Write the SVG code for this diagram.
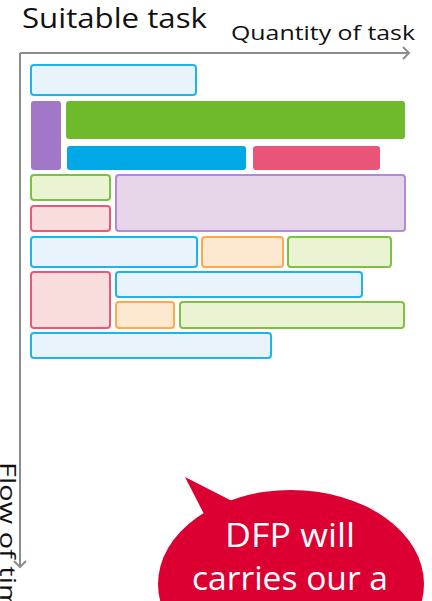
<svg xmlns="http://www.w3.org/2000/svg" width="432" height="601" viewBox="0 0 432 601">
<defs>
<style>
text{font-family:"Open Sans","Noto Sans","DejaVu Sans",sans-serif}
.t{fill:#111}
.ax{stroke:#8c8c8c;stroke-width:2;fill:none}
.b{stroke-width:2}
.lb{fill:#e8f3fb;stroke:#1cb4ec}
.lg{fill:#eaf3d2;stroke:#7cc143}
.lp{fill:#f9dcdc;stroke:#e8587a}
.lv{fill:#e6d4e8;stroke:#b18ad6}
.lo{fill:#fde8d0;stroke:#ffa852}
.s{stroke:none}
</style>
</defs>
<rect width="432" height="601" fill="#fff"/>
<text class="t" x="22" y="28" font-size="27" textLength="185" lengthAdjust="spacingAndGlyphs">Suitable task</text>
<text class="t" x="231" y="40" font-size="20" textLength="184" lengthAdjust="spacingAndGlyphs">Quantity of task</text>
<text class="t" font-size="22" transform="translate(0,462) rotate(90)" textLength="165" lengthAdjust="spacingAndGlyphs">Flow of time</text>
<g id="connectors">
<path class="ax" d="M20 53 H409 M20 53 V567"/>
<path class="ax" d="M403 47 L409 53 L403 59"/>
<path class="ax" d="M14 561 L20 567 L26 561"/>
</g>
<g id="n1"><rect class="b lb" x="31" y="65" width="165" height="30" rx="3"/></g>
<g id="n2"><rect class="s" fill="#a377c8" x="31" y="101" width="30" height="69" rx="3"/></g>
<g id="n3"><rect class="s" fill="#6fba2c" x="66" y="101" width="339" height="38" rx="3"/></g>
<g id="n4"><rect class="s" fill="#00a9e6" x="67" y="146" width="179" height="24" rx="3"/></g>
<g id="n5"><rect class="s" fill="#e85578" x="253" y="146" width="127" height="24" rx="3"/></g>
<g id="n6"><rect class="b lg" x="31" y="175" width="79" height="25" rx="3"/></g>
<g id="n7"><rect class="b lp" x="31" y="206" width="79" height="25" rx="3"/></g>
<g id="n8"><rect class="b lv" x="116" y="175" width="289" height="56" rx="3"/></g>
<g id="n9"><rect class="b lb" x="31" y="237" width="166" height="30" rx="3"/></g>
<g id="n10"><rect class="b lo" x="202" y="237" width="81" height="30" rx="3"/></g>
<g id="n11"><rect class="b lg" x="288" y="237" width="103" height="30" rx="3"/></g>
<g id="n12"><rect class="b lp" x="31" y="272" width="79" height="56" rx="3"/></g>
<g id="n13"><rect class="b lb" x="116" y="272" width="246" height="25" rx="3"/></g>
<g id="n14"><rect class="b lo" x="116" y="302" width="58" height="26" rx="3"/></g>
<g id="n15"><rect class="b lg" x="180" y="302" width="224" height="26" rx="3"/></g>
<g id="n16"><rect class="b lb" x="31" y="333" width="240" height="25" rx="3"/></g>
<g id="bubble">
<ellipse cx="291" cy="584" rx="133" ry="94" fill="#dc0032"/>
<path d="M185 477 L232 501 L204 514 Z" fill="#dc0032"/>
<text x="290" y="547" font-size="32" fill="#fff" text-anchor="middle" textLength="130" lengthAdjust="spacingAndGlyphs">DFP will</text>
<text x="290" y="590" font-size="32" fill="#fff" text-anchor="middle" textLength="196" lengthAdjust="spacingAndGlyphs">carries our a</text>
</g>
</svg>
